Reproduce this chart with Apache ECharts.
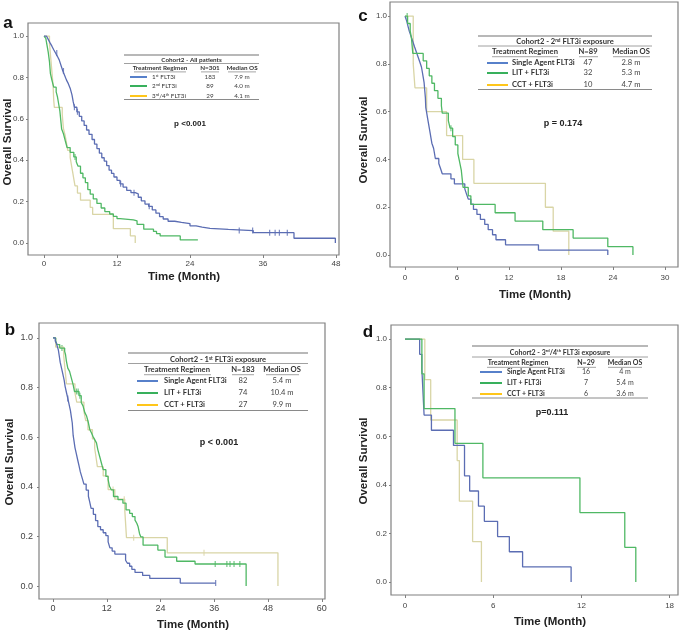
<!DOCTYPE html>
<html><head><meta charset="utf-8">
<script src="https://cdn.jsdelivr.net/npm/echarts@6/dist/echarts.min.js"></script>
<style>html,body{margin:0;padding:0;background:#fff}#c{width:685px;height:634px}</style>
</head><body><div id="c"></div>
<script>
// ---------------- DATA ----------------
// Panel a: Cohort2 - All patients
const aFirst = [[0,1],[0.4,0.995],[0.7,0.984],[1.0,0.967],[1.3,0.951],[1.6,0.934],[1.9,0.918],[2.2,0.902],[2.5,0.885],[2.8,0.858],[3.1,0.831],[3.4,0.809],[3.7,0.787],[4.0,0.770],[4.3,0.748],[4.6,0.716],[4.8,0.683],[5.0,0.656],[5.4,0.634],[5.8,0.612],[6.2,0.590],[6.6,0.568],[7.0,0.546],[7.4,0.525],[7.9,0.500],[8.3,0.478],[8.7,0.456],[9.1,0.434],[9.5,0.412],[9.9,0.396],[10.3,0.374],[10.7,0.352],[11.1,0.336],[11.5,0.319],[12.0,0.303],[12.5,0.286],[13.0,0.270],[13.6,0.254],[14.3,0.243],[15.0,0.237],[15.5,0.221],[16.0,0.204],[16.6,0.188],[17.2,0.177],[17.8,0.160],[18.4,0.144],[19.0,0.127],[19.6,0.116],[20.4,0.105],[21.5,0.100],[22.6,0.094],[24.0,0.083],[25.0,0.077],[26.0,0.071],[27.3,0.066],[30.3,0.060],[34.4,0.050],[41.1,0.023],[47.9,0]];
const aFirstCens = [2.1,3.2,5.0,5.5,12.6,14.8,17.3,32.1,34.3,37.1,38.0,38.7,40.0];
const aSecond = [[0,1],[0.3,0.989],[0.5,0.955],[0.7,0.921],[0.9,0.876],[1.05,0.820],[1.3,0.787],[1.6,0.753],[2.0,0.730],[2.2,0.708],[2.4,0.674],[2.6,0.640],[2.75,0.596],[2.9,0.551],[3.2,0.528],[3.5,0.494],[3.8,0.461],[4.3,0.438],[4.9,0.416],[5.3,0.393],[5.6,0.371],[6.0,0.337],[6.4,0.315],[6.8,0.292],[7.2,0.258],[7.6,0.236],[8.1,0.213],[8.7,0.191],[9.4,0.169],[10.0,0.152],[10.8,0.140],[11.4,0.129],[12.0,0.118],[12.5,0.112],[14.7,0.107],[15.3,0.090],[16.4,0.067],[18.0,0.056],[18.5,0.045],[19.1,0.034],[22.4,0.015],[25.3,0.015]];
const aSecondCens = [5.1];
const aThird = [[0,1],[0.9,0.966],[1.0,0.931],[1.1,0.897],[1.2,0.862],[1.3,0.828],[1.4,0.793],[1.5,0.759],[1.55,0.724],[1.6,0.690],[1.7,0.655],[3.0,0.621],[3.1,0.586],[3.2,0.552],[3.5,0.517],[3.7,0.483],[3.9,0.448],[4.3,0.414],[4.5,0.379],[4.7,0.345],[4.9,0.310],[5.1,0.276],[5.5,0.241],[6.0,0.207],[7.6,0.172],[8.0,0.138],[11.4,0.069],[14.2,0.034],[15.0,0]];
const aThirdCens = [];
const aLegendLabels = ['1{s|st} FLT3i','2{s|nd} FLT3i','3{s|rd}/4{s|th} FLT3i'];
const aN = ['183','89','29'];
const aMedian = ['7.9 m','4.0 m','4.1 m'];

// Panel b: Cohort2 - 1st FLT3i exposure
const bSingle = [[0,1],[0.5,0.988],[0.8,0.976],[1.0,0.963],[1.2,0.951],[1.4,0.927],[1.6,0.902],[1.9,0.878],[2.2,0.854],[2.5,0.829],[2.7,0.805],[3.0,0.780],[3.3,0.756],[3.6,0.731],[3.9,0.706],[4.1,0.681],[4.3,0.657],[4.4,0.632],[4.5,0.607],[4.7,0.583],[4.9,0.558],[5.2,0.534],[5.5,0.509],[5.8,0.485],[6.1,0.460],[6.5,0.436],[6.9,0.411],[7.4,0.387],[7.9,0.362],[8.2,0.338],[8.5,0.313],[9.0,0.289],[9.5,0.264],[10.0,0.240],[10.6,0.227],[11.2,0.215],[11.8,0.203],[12.3,0.178],[12.7,0.154],[13.2,0.141],[13.8,0.129],[16.2,0.104],[16.6,0.092],[17.1,0.080],[17.6,0.067],[18.3,0.055],[20.0,0.043],[21.6,0.031],[28.4,0.012],[36.3,0.012]];
const bSingleCens = [3.3,36.3];
const bLit = [[0,1],[0.6,0.986],[0.9,0.973],[1.5,0.959],[2.6,0.946],[2.8,0.932],[3.0,0.905],[3.3,0.878],[3.7,0.865],[4.1,0.838],[4.5,0.811],[4.8,0.784],[5.8,0.767],[6.3,0.740],[6.7,0.726],[7.1,0.699],[7.5,0.685],[7.9,0.658],[8.2,0.631],[8.6,0.617],[8.9,0.604],[9.3,0.590],[9.7,0.577],[10.0,0.550],[10.4,0.523],[10.8,0.496],[11.2,0.469],[11.8,0.442],[12.3,0.429],[12.6,0.402],[13.0,0.388],[13.5,0.361],[14.5,0.348],[15.6,0.334],[16.3,0.307],[17.1,0.293],[17.7,0.280],[18.3,0.266],[18.7,0.253],[19.0,0.239],[19.3,0.212],[19.6,0.198],[20.1,0.165],[23.4,0.145],[25.0,0.117],[27.6,0.100],[31.7,0.089],[43.1,0]];
const bLitCens = [2.0,5.2,5.6,6.0,36.2,38.8,39.5,40.4,41.7];
const bCct = [[0,1],[0.6,0.963],[2.4,0.926],[2.6,0.889],[2.8,0.852],[3.0,0.815],[4.9,0.778],[5.3,0.741],[6.9,0.704],[7.3,0.667],[7.8,0.630],[8.8,0.593],[9.3,0.556],[9.6,0.519],[9.9,0.481],[11.2,0.444],[12.3,0.389],[13.8,0.350],[16.0,0.311],[16.4,0.195],[25.5,0.134],[50.2,0]];
const bCctCens = [13.4,15.9,18.0,33.7];
const bLegendLabels = ['Single Agent FLT3i','LIT + FLT3i','CCT + FLT3i'];
const bN = ['82','74','27'];
const bMedian = ['5.4 m','10.4 m','9.9 m'];

// Panel c: Cohort2 - 2nd FLT3i exposure
const cSingle = [[0,1],[0.2,0.979],[0.35,0.957],[0.5,0.936],[0.7,0.915],[0.9,0.894],[1.1,0.872],[1.3,0.851],[1.5,0.830],[1.7,0.809],[1.9,0.787],[2.0,0.766],[2.1,0.745],[2.2,0.723],[2.3,0.681],[2.35,0.660],[2.4,0.617],[2.5,0.596],[2.6,0.574],[2.7,0.553],[2.8,0.532],[2.9,0.511],[3.0,0.489],[3.1,0.468],[3.3,0.447],[3.4,0.426],[3.5,0.404],[3.9,0.383],[4.1,0.362],[4.3,0.340],[5.3,0.319],[5.7,0.298],[6.9,0.277],[7.1,0.255],[7.3,0.234],[7.6,0.213],[7.9,0.191],[8.3,0.170],[8.7,0.149],[9.2,0.128],[9.6,0.106],[10.1,0.085],[10.5,0.064],[11.6,0.043],[15.4,0.021],[23.4,0]];
const cSingleCens = [];
const cLit = [[0,1],[0.3,0.969],[0.6,0.938],[0.75,0.906],[0.9,0.844],[2.1,0.813],[2.5,0.781],[2.8,0.750],[3.1,0.719],[3.4,0.688],[3.8,0.656],[4.2,0.625],[4.3,0.594],[5.0,0.563],[5.2,0.531],[5.5,0.496],[5.8,0.461],[6.1,0.425],[6.3,0.390],[6.5,0.354],[6.6,0.319],[6.7,0.283],[7.3,0.248],[7.6,0.212],[10.4,0.177],[12.7,0.142],[15.9,0.106],[19.4,0.071],[23.4,0.035],[26.3,0]];
const cLitCens = [0.25,5.3];
const cCct = [[0,1],[0.95,0.8],[1.15,0.7],[2.5,0.6],[4.8,0.5],[6.65,0.4],[7.95,0.3],[16.2,0.2],[17.1,0.1],[18.9,0]];
const cCctCens = [];
const cLegendLabels = ['Single Agent FLT3i','LIT + FLT3i','CCT + FLT3i'];
const cN = ['47','32','10'];
const cMedian = ['2.8 m','5.3 m','4.7 m'];

// Panel d: Cohort2 - 3rd/4th FLT3i exposure
const dSingle = [[0,1],[1.0,0.9375],[1.15,0.875],[1.25,0.75],[1.3,0.6875],[1.8,0.625],[3.3,0.5625],[4.05,0.4375],[4.4,0.375],[5.0,0.3125],[5.4,0.25],[6.3,0.1875],[7.1,0.125],[8.0,0.0625],[11.3,0]];
const dLit = [[0,1],[1.15,0.857],[1.3,0.714],[3.4,0.571],[5.3,0.429],[11.9,0.286],[14.95,0.143],[15.7,0]];
const dCct = [[0,1],[1.35,0.833],[1.75,0.667],[3.55,0.5],[3.7,0.333],[4.6,0.167],[5.2,0]];
const dLegendLabels = ['Single Agent FLT3i','LIT + FLT3i','CCT + FLT3i'];
const dN = ['16','7','6'];
const dMedian = ['4 m','5.4 m','3.6 m'];

const xTicksA = [0,12,24,36,48];
const xTicksB = [0,12,24,36,48,60];
const xTicksC = [0,6,12,18,24,30];
const xTicksD = [0,6,12,18];
const yTicks = [0,0.2,0.4,0.6,0.8,1.0];

// ---------------- STYLE ----------------
const BLUE = '#5b6db3', GREEN = '#4fb864', YELLOW = '#d9d5a6';
const LBLUE = '#4472c4', LGREEN = '#22a84a', LYELLOW = '#ffc000';
const FRAME = '#808080';

function survAt(curve, t) {
  let s = 1;
  for (const p of curve) { if (p[0] <= t) s = p[1]; else break; }
  return s;
}
function cens(curve, times) { return times.map(t => [t, survAt(curve, t)]); }

const panels = [
  {grid:{left:28,top:23,width:311,height:232}, x:[-2.63,48.5], y:[-0.058,1.063], xt:xTicksA, fs:8, xm:5, ym:4,
   curves:[[aThird,aThirdCens,YELLOW],[aSecond,aSecondCens,GREEN],[aFirst,aFirstCens,BLUE]]},
  {grid:{left:39,top:323,width:286,height:276}, x:[-3.125,60.7], y:[-0.052,1.06], xt:xTicksB, fs:9, xm:5, ym:6,
   curves:[[bCct,bCctCens,YELLOW],[bLit,bLitCens,GREEN],[bSingle,bSingleCens,BLUE]]},
  {grid:{left:390,top:2,width:288,height:265}, x:[-1.73,31.5], y:[-0.050,1.059], xt:xTicksC, fs:8, xm:7, ym:3,
   curves:[[cCct,cCctCens,YELLOW],[cSingle,cSingleCens,BLUE],[cLit,cLitCens,GREEN]]},
  {grid:{left:391,top:325,width:287,height:270}, x:[-0.95,18.57], y:[-0.053,1.058], xt:xTicksD, fs:8, xm:7, ym:4,
   curves:[[dCct,[],YELLOW],[dSingle,[],BLUE],[dLit,[],GREEN]]}
];

const grids = [], xAxes = [], yAxes = [], series = [];
panels.forEach((p, i) => {
  grids.push(Object.assign({show:true, borderColor:FRAME, borderWidth:1.2, backgroundColor:'#fff'}, p.grid));
  xAxes.push({type:'value', gridIndex:i, min:p.x[0], max:p.x[1], position:'bottom',
    axisLine:{show:false, onZero:false}, splitLine:{show:false},
    axisTick:{show:true, length:3, lineStyle:{color:FRAME}, customValues:p.xt},
    axisLabel:{customValues:p.xt, fontSize:p.fs, color:'#444', fontFamily:'Liberation Sans, Arial', margin:p.xm}});
  yAxes.push({type:'value', gridIndex:i, min:p.y[0], max:p.y[1], position:'left',
    axisLine:{show:false, onZero:false}, splitLine:{show:false},
    axisTick:{show:true, length:2, lineStyle:{color:FRAME}, customValues:yTicks},
    axisLabel:{customValues:yTicks, fontSize:p.fs, color:'#444', fontFamily:'Liberation Sans, Arial', margin:p.ym,
      formatter:v => v.toFixed(1)}});
  p.curves.forEach(c => {
    series.push({type:'line', xAxisIndex:i, yAxisIndex:i, step:'end', symbol:'none', silent:true,
      lineStyle:{color:c[2], width:1.3}, data:c[0]});
    if (c[1].length) series.push({type:'scatter', xAxisIndex:i, yAxisIndex:i, symbol:'rect', symbolSize:[1.2,6], silent:true,
      itemStyle:{color:c[2]}, data:cens(c[0], c[1])});
  });
});

// ---------------- GRAPHICS (text, legend tables) ----------------
const FONT = 'Lato, "Open Sans", sans-serif';
const g = [];
function txt(x, y, text, o) {
  o = o || {};
  g.push({type:'text', x, y, rotation:o.rot || 0, z:10, style:{text, fill:o.fill || '#222',
    fontSize:o.fs || 8, fontWeight:o.fw || 'normal', fontFamily:o.ff || FONT,
    align:o.align || 'center', verticalAlign:'middle',
    rich:{s:{fontSize:(o.fs||8)*0.62, verticalAlign:'top', fontWeight:o.fw || 'normal', fill:o.fill||'#222', fontFamily:o.ff||FONT, padding:[0,0,0,0]}}}});
}
function ln(x1, y1, x2, y2, color, w) {
  g.push({type:'line', z:10, shape:{x1, y1, x2, y2}, style:{stroke:color, lineWidth:w}});
}
const ARIAL = '"Liberation Sans", Arial, sans-serif';
// panel letters
txt(8,23,'a',{fs:17,fw:'bold',ff:ARIAL,fill:'#111'});
txt(10,330,'b',{fs:17,fw:'bold',ff:ARIAL,fill:'#111'});
txt(363,16,'c',{fs:17,fw:'bold',ff:ARIAL,fill:'#111'});
txt(368,332,'d',{fs:17,fw:'bold',ff:ARIAL,fill:'#111'});
// axis titles
[[184,277],[193,625],[535,295],[550,622]].forEach(p => txt(p[0],p[1],'Time (Month)',{fs:11.5,fw:'bold',ff:ARIAL}));
[[8,142],[10,462],[364,140],[364,461]].forEach(p => txt(p[0],p[1],'Overall Survival',{fs:11.5,fw:'bold',ff:ARIAL,rot:Math.PI/2}));
// p values
txt(190,124,'p <0.001',{fs:8,fw:'bold',ff:ARIAL});
txt(219,443,'p < 0.001',{fs:9,fw:'bold',ff:ARIAL});
txt(563,124,'p = 0.174',{fs:9,fw:'bold',ff:ARIAL});
txt(552,413,'p=0.111',{fs:9,fw:'bold',ff:ARIAL});

function table(t) {
  ln(t.x1, t.yTop, t.x2, t.yTop, '#a0a0a0', 1.3);
  txt((t.x1 + t.x2) / 2, t.yTitle, t.title, {fs:t.fs, fw:'bold', fill:'#333'});
  ln(t.x1, t.yRule, t.x2, t.yRule, '#a0a0a0', 1);
  txt(t.cTr, t.yHead, 'Treatment Regimen', {fs:t.fs, fw:'bold', fill:'#333'});
  txt(t.cN, t.yHead, t.nHead, {fs:t.fs, fw:'bold', fill:'#333'});
  txt(t.cMed, t.yHead, 'Median OS', {fs:t.fs, fw:'bold', fill:'#333'});
  t.ul.forEach(u => ln(u[0], t.yHead + t.fs*0.62, u[1], t.yHead + t.fs*0.62, '#666', 0.6));
  const cols = [LBLUE, LGREEN, LYELLOW];
  t.rows.forEach((y, k) => {
    ln(t.sx[0], y, t.sx[1], y, cols[k], 1.8);
    txt(t.lx, y, t.labels[k], {fs:t.fs, fw:t.lfw, fill:'#333', align:'left'});
    txt(t.cN, y, t.ns[k], {fs:t.fs, fill:'#444'});
    txt(t.cMed, y, t.meds[k], {fs:t.fs, fill:'#444'});
  });
  ln(t.x1, t.yBot, t.x2, t.yBot, '#8a8a8a', 1);
}
table({x1:124,x2:259,yTop:55,yTitle:60,yRule:63.5,yHead:68,rows:[77,86,96],yBot:99.5,fs:6.3,
  title:'Cohort2 - All patients', cTr:160, cN:210, nHead:'N=301', cMed:242,
  ul:[[134,186],[201,219],[228,256]], sx:[130,147], lx:152, lfw:'normal',
  labels:aLegendLabels, ns:aN, meds:aMedian});
table({x1:128,x2:308,yTop:353,yTitle:359.5,yRule:363.5,yHead:370,rows:[381,393,405],yBot:410.5,fs:7.6,
  title:'Cohort2 - 1{s|st} FLT3i exposure', cTr:177, cN:243, nHead:'N=183', cMed:282,
  ul:[[144,211],[232,254],[266,299]], sx:[137,158], lx:164, lfw:'bold',
  labels:bLegendLabels, ns:bN, meds:bMedian});
table({x1:478,x2:652,yTop:36,yTitle:42,yRule:46,yHead:52,rows:[63,73,85],yBot:89.5,fs:7.6,
  title:'Cohort2 - 2{s|nd} FLT3i exposure', cTr:525, cN:588, nHead:'N=89', cMed:631,
  ul:[[492,558],[579,598],[613,650]], sx:[487,508], lx:512, lfw:'bold',
  labels:cLegendLabels, ns:cN, meds:cMedian});
table({x1:472,x2:648,yTop:346,yTitle:352.5,yRule:357,yHead:363,rows:[372,383,394],yBot:398,fs:7,
  title:'Cohort2 - 3{s|rd}/4{s|th} FLT3i exposure', cTr:518, cN:586, nHead:'N=29', cMed:625,
  ul:[[487,550],[577,596],[608,642]], sx:[480,502], lx:507, lfw:'bold',
  labels:dLegendLabels, ns:dN, meds:dMedian});

const chart = echarts.init(document.getElementById('c'), null, {renderer:'canvas'});
chart.setOption({animation:false, backgroundColor:'#fff', grid:grids, xAxis:xAxes, yAxis:yAxes, series, graphic:g});
</script></body></html>
